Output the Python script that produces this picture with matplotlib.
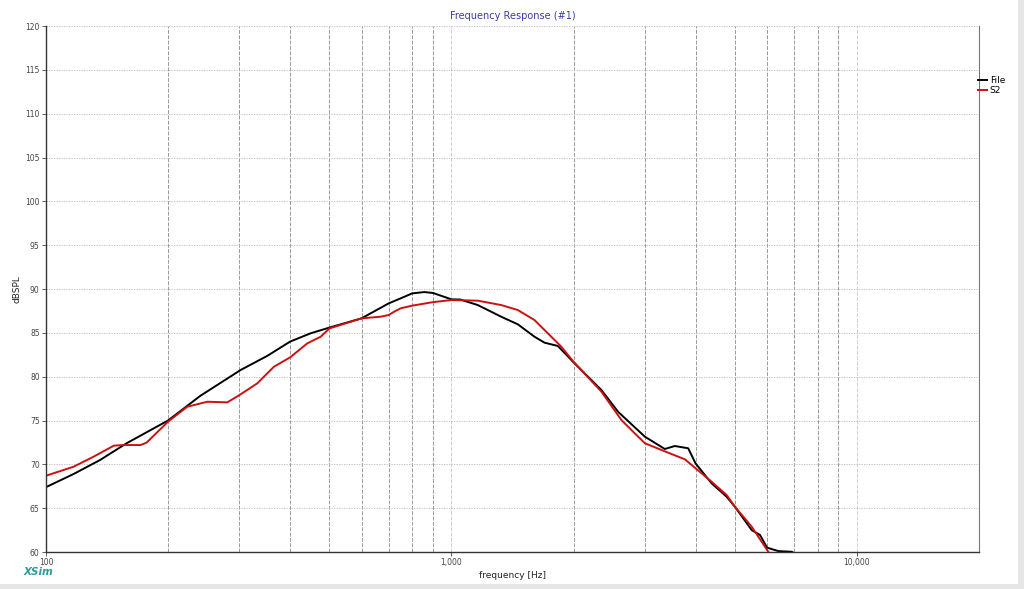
import matplotlib.pyplot as plt
from matplotlib.patches import Rectangle
from matplotlib.ticker import FixedLocator, NullFormatter

# File (black) response
file_freq = [100, 117, 136, 158, 200, 240, 302, 351, 400, 449, 500, 600, 700,
             750, 800, 857, 900, 1000, 1051, 1161, 1326, 1458, 1602, 1696, 1830,
             2000, 2343, 2575, 3000, 3358, 3555, 3836, 4000, 4380, 4771, 5000,
             5501, 5768, 6000, 6404, 6908, 7200]
file_db = [67.4, 68.9, 70.5, 72.4, 75.0, 77.8, 80.76, 82.36, 84.0, 84.94, 85.6,
           86.65, 88.36, 88.94, 89.5, 89.65, 89.55, 88.82, 88.8, 88.17, 86.84,
           85.97, 84.56, 83.88, 83.5, 81.64, 78.48, 76.0, 73.15, 71.75, 72.09,
           71.83, 70.1, 67.84, 66.3, 65.17, 62.5, 61.94, 60.5, 60.1, 60.03, 59.5]

# S2 (red) response
s2_freq = [100, 117, 131, 147, 155, 171, 177, 200, 223, 250, 280, 300, 332, 365,
           400, 441, 476, 500, 600, 669, 700, 722, 750, 800, 900, 1000, 1161,
           1326, 1458, 1602, 1729, 1866, 2000, 2343, 2624, 2831, 3000, 3423,
           3764, 4000, 4380, 4771, 5000, 5501, 6050]
s2_db = [68.7, 69.73, 70.87, 72.13, 72.2, 72.2, 72.47, 74.87, 76.57, 77.14,
         77.07, 77.9, 79.24, 81.14, 82.2, 83.8, 84.56, 85.5, 86.65, 86.84,
         87.03, 87.41, 87.8, 88.1, 88.5, 88.74, 88.67, 88.17, 87.6, 86.46,
         84.94, 83.42, 81.7, 78.29, 75.06, 73.54, 72.4, 71.33, 70.57, 69.55,
         68.02, 66.5, 65.17, 62.89, 60.0]

y_ticks = list(range(60, 121, 5))
x_major = [100, 1000, 10000]
x_major_labels = ["100", "1,000", "10,000"]
x_minor = [200, 300, 400, 500, 600, 700, 800, 900,
           2000, 3000, 4000, 5000, 6000, 7000, 8000, 9000]

fig = plt.figure(figsize=(10.24, 5.89), dpi=100)

# light grey window edge on the right and bottom
fig.patches.append(Rectangle((1018 / 1024, 0), 6 / 1024, 1, transform=fig.transFigure,
                             facecolor="#e6e6e6", edgecolor="none", zorder=0))
fig.patches.append(Rectangle((0, 0), 1, 5 / 589, transform=fig.transFigure,
                             facecolor="#e6e6e6", edgecolor="none", zorder=0))

ax = fig.add_axes([46 / 1024, 1 - 552 / 589, 933 / 1024, 526 / 589])

ax.set_xscale("log")
ax.set_xlim(100, 20000)
ax.set_ylim(60, 120)

ax.xaxis.set_major_locator(FixedLocator(x_major))
ax.set_xticks(x_major)
ax.set_xticklabels(x_major_labels)
ax.xaxis.set_minor_locator(FixedLocator(x_minor))
ax.xaxis.set_minor_formatter(NullFormatter())
ax.set_yticks(y_ticks)

ax.tick_params(axis="both", which="major", labelsize=5.5, length=3,
               width=0.6, colors="#444444", pad=1.5)
ax.tick_params(axis="x", which="minor", length=0)

ax.grid(True, axis="y", which="major", color="#b8b8b8", linestyle=(0, (1.5, 1.5)), linewidth=0.6)
ax.grid(True, axis="x", which="minor", color="#9a9a9a", linestyle=(0, (4, 1.5)), linewidth=0.7)
ax.grid(True, axis="x", which="major", color="#cfcfcf", linestyle=(0, (4, 1.5)), linewidth=0.7)

for side in ["left", "bottom"]:
    ax.spines[side].set_color("#333333")
    ax.spines[side].set_linewidth(1.0)
ax.spines["right"].set_color("#777777")
ax.spines["right"].set_linewidth(0.8)
ax.spines["top"].set_visible(False)

ax.plot(file_freq, file_db, color="black", linewidth=1.4, label="File")
ax.plot(s2_freq, s2_db, color="#cc1111", linewidth=1.4, label="S2")

ax.set_title("Frequency Response (#1)", color="#3a3aa8", fontsize=7, pad=5)
ax.set_xlabel("frequency [Hz]", fontsize=6.5, color="#222222", labelpad=3)
ax.set_ylabel("dBSPL", fontsize=6.5, color="#222222", labelpad=3)

ax.legend(loc="upper left", bbox_to_anchor=(0.999, 0.905), frameon=False,
          fontsize=6.5, handlelength=1.0, handletextpad=0.3, labelspacing=0.1,
          borderaxespad=0, borderpad=0)

fig.text(24 / 1024, 1 - 572 / 589, "XSim", color="#2f9a9a", fontsize=7.5,
         fontstyle="italic", fontweight="bold", va="center")

fig.savefig("out.png", dpi=100)
